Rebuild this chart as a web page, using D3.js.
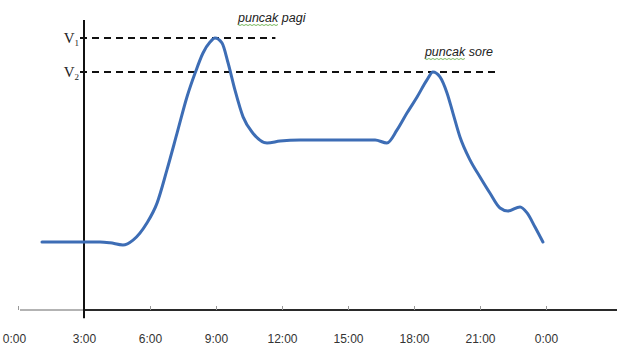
<!DOCTYPE html>
<html><head><meta charset="utf-8">
<script src="https://cdn.jsdelivr.net/npm/d3@7"></script>
<style>html,body{margin:0;padding:0;background:#fff;overflow:hidden}</style>
</head><body><svg id="c" width="617" height="349"></svg>
<script>
// ---- data ----
const tickHours = [0, 3, 6, 9, 12, 15, 18, 21, 24];
const tickLabels = ["0:00", "3:00", "6:00", "9:00", "12:00", "15:00", "18:00", "21:00", "0:00"];
const hours = [1.09, 3, 3.73, 4.18, 4.77, 5.23, 5.86, 6.32, 6.77, 7.23, 7.68, 8.05, 8.41, 8.73, 8.95,
  9.27, 9.55, 9.86, 10.23, 10.68, 11.32, 11.91, 12.82, 16.23, 16.77, 17.23, 17.68, 18.14, 18.59,
  18.86, 19.18, 19.5, 19.77, 20.09, 20.55, 21, 21.45, 21.91, 22.27, 22.82, 23.14, 23.5, 23.86];
const volume = [25, 25, 25, 24.7, 23.9, 25.7, 32, 39.3, 51.5, 65, 78.3, 87.1, 94.5, 98.5, 100,
  98.2, 90.8, 80.9, 71, 65, 61.4, 62.1, 62.5, 62.5, 61.4, 66.2, 72.4, 78.3, 84.6,
  87.5, 85.7, 79.8, 72.4, 63.6, 55.1, 48.9, 43, 37.5, 36.4, 37.9, 35.7, 30.5, 25];
const refNames = ["V", "V"];
const refSubs = ["1", "2"];
const refValues = [100, 87.5];
const refEndHours = [11.7, 21.9];
const peakLabels = ["puncak pagi", "puncak sore"];
const peakHours = [9.0, 18.86];
const peakValues = [100, 87.5];

// ---- drawing ----
const svg = d3.select("#c");
const x = d3.scaleLinear().domain([0, 24]).range([18, 546]);
const y = d3.scaleLinear().domain([0, 100]).range([310, 38]);
const axisX = x(3), baseY = y(0);

// horizontal axis: grey part left of vertical axis, dark after
svg.append("line").attr("x1", x(0) + 2).attr("x2", axisX).attr("y1", baseY).attr("y2", baseY)
  .attr("stroke", "#9a9a9a").attr("stroke-width", 1.5);
svg.append("line").attr("x1", axisX).attr("x2", 617).attr("y1", baseY).attr("y2", baseY)
  .attr("stroke", "#2a2a2a").attr("stroke-width", 2);

const ax = svg.append("g").attr("transform", `translate(0,${baseY})`)
  .call(d3.axisBottom(x).tickValues(tickHours).tickSize(-4).tickPadding(0)
    .tickFormat((d, i) => tickLabels[i]));
ax.select(".domain").remove();
ax.selectAll(".tick line").attr("stroke", "#999").attr("stroke-width", 1);
ax.selectAll(".tick text").attr("y", 33).attr("dy", 0)
  .attr("font-family", "'Liberation Sans', Arial, sans-serif").attr("font-size", 12)
  .attr("fill", "#333")
  .attr("dx", (d, i) => i === 0 ? -4 : 0);

// vertical axis
svg.append("line").attr("x1", axisX).attr("x2", axisX).attr("y1", y(106.6)).attr("y2", y(-3))
  .attr("stroke", "#111").attr("stroke-width", 2);

// reference dashed lines + labels
refValues.forEach((v, i) => {
  svg.append("line").attr("x1", axisX - 4).attr("x2", x(refEndHours[i]))
    .attr("y1", y(v)).attr("y2", y(v))
    .attr("stroke", "#111").attr("stroke-width", 1.8).attr("stroke-dasharray", "7,5");
  const t = svg.append("text").attr("x", axisX - 5).attr("y", y(v) + 5)
    .attr("text-anchor", "end").attr("font-family", "'Liberation Serif', 'Times New Roman', serif")
    .attr("font-size", 15).attr("fill", "#222");
  t.append("tspan").text(refNames[i]);
  t.append("tspan").attr("font-size", 9).attr("dy", 3).text(refSubs[i]);
});

// curve
const line = d3.line().x(d => x(d[0])).y(d => y(d[1])).curve(d3.curveMonotoneX);
svg.append("path").datum(hours.map((h, i) => [h, volume[i]]))
  .attr("d", line).attr("fill", "none").attr("stroke", "#3d6db5")
  .attr("stroke-width", 3).attr("stroke-linecap", "round").attr("stroke-linejoin", "round");

// peak annotations
const offsets = [[22, -16], [-8, -16]];
peakLabels.forEach((lab, i) => {
  const tx = x(peakHours[i]) + offsets[i][0], ty = y(peakValues[i]) + offsets[i][1];
  svg.append("text").attr("x", tx).attr("y", ty)
    .attr("font-family", "'Liberation Sans', Arial, sans-serif").attr("font-style", "italic")
    .attr("font-size", 12.5).attr("fill", "#222").text(lab);
  // spell-check style wavy underline under "puncak"
  const w = 40;
  const pts = d3.range(0, w + 1, 2).map((k, j) => [tx + k, ty + 2.5 + (j % 2 ? 1 : 0)]);
  svg.append("path").attr("d", d3.line()(pts)).attr("fill", "none")
    .attr("stroke", "#6ab04c").attr("stroke-width", 0.9);
});
</script></body></html>
